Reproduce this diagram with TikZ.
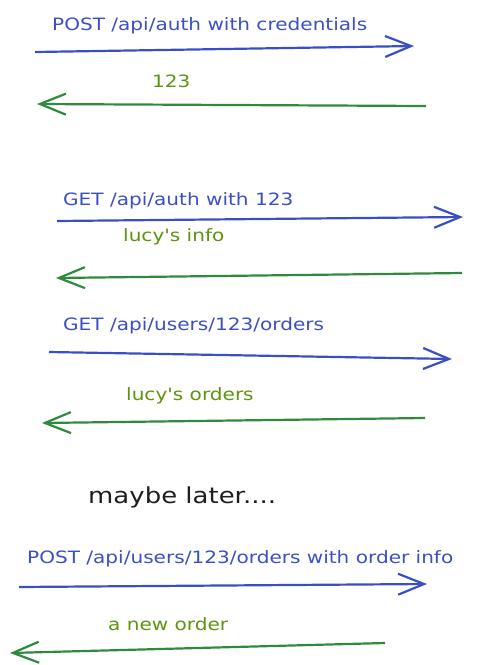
\documentclass[tikz,border=0pt]{standalone}
\usepackage{fontspec}
\newfontfamily\sketchfont[FakeStretch=1.18]{DejaVu Sans}
\usetikzlibrary{arrows.meta,positioning}
\definecolor{reqblue}{HTML}{3B4FC4}
\definecolor{resgreen}{HTML}{2F8A3E}
\definecolor{restext}{HTML}{5C940D}
\definecolor{ink}{HTML}{1E1E1E}

\begin{document}
\begin{tikzpicture}[x=1pt,y=-1pt,
   req/.style={color=reqblue,line width=2.2pt,-{Straight Barb[length=26pt,width=21pt]}},
   res/.style={color=resgreen,line width=2.2pt,-{Straight Barb[length=26pt,width=21pt]}},
   reqlabel/.style={anchor=base west,inner sep=0pt,text=reqblue,font=\sketchfont\fontsize{17}{20}\selectfont},
   reslabel/.style={anchor=base west,inner sep=0pt,text=restext,font=\sketchfont\fontsize{17}{20}\selectfont},
   note/.style={anchor=base west,inner sep=0pt,text=ink,font=\sketchfont\fontsize{22}{26}\selectfont}]
   \useasboundingbox (0,0) rectangle (478,665);
   % login
   \coordinate (a1) at (35,52);   \coordinate (b1) at (414,46);
   \coordinate (b2) at (426,106); \coordinate (a2) at (37,104);
   \node[reqlabel] (t1) at (52,30) {POST /api/auth with credentials};
   \node[reslabel] (t2) at (152,87) {123};
   % who am i
   \coordinate (a3) at (57,221);  \coordinate (b3) at (463,217);
   \coordinate (b4) at (462,273); \coordinate (a4) at (56,278);
   \node[reqlabel] (t3) at (63,205) {GET /api/auth with 123};
   \node[reslabel] (t4) at (123,241) {lucy's info};
   % orders
   \coordinate (a5) at (49,352);  \coordinate (b5) at (452,359);
   \coordinate (b6) at (425,418); \coordinate (a6) at (42,423);
   \node[reqlabel] (t5) at (63,330) {GET /api/users/123/orders};
   \node[reslabel] (t6) at (126,400) {lucy's orders};
   \node[note] (later) at (88,503) {maybe later....};
   % new order
   \coordinate (a7) at (19,587);  \coordinate (b7) at (427,584);
   \coordinate (b8) at (385,643); \coordinate (a8) at (10,653);
   \node[reqlabel] (t7) at (27,563) {POST /api/users/123/orders with order info};
   \node[reslabel] (t8) at (108,630) {a new order};
   \path[req]
   (a1) edge (b1)
   (a3) edge (b3)
   (a5) edge (b5)
   (a7) edge (b7);
   \path[res]
   (b2) edge (a2)
   (b4) edge (a4)
   (b6) edge (a6)
   (b8) edge (a8);
\end{tikzpicture}
\end{document}
